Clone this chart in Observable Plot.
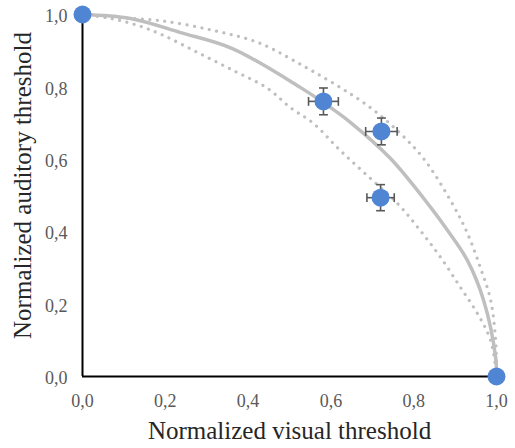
<!DOCTYPE html>
<html><head><meta charset="utf-8">
<script src="https://cdn.jsdelivr.net/npm/d3@7"></script>
<script src="https://cdn.jsdelivr.net/npm/@observablehq/plot@0.6"></script>
<style>
body{margin:0;background:#fff;}
</style></head>
<body><div id="chart"></div>
<script>
// Observed points
const visual = [0, 0.582, 0.722, 0.720, 1];
const auditory = [1, 0.760, 0.677, 0.494, 0];
const errVisual = [0, 0.036, 0.038, 0.033, 0];
const errAuditory = [0, 0.037, 0.037, 0.036, 0];

// Model curve (solid)
const modelX = [0, 0.116, 0.237, 0.362, 0.527, 0.599, 0.647, 0.744, 0.841, 0.882, 0.930, 0.969, 0.998, 1];
const modelY = [1, 0.989, 0.950, 0.906, 0.798, 0.743, 0.702, 0.602, 0.467, 0.403, 0.320, 0.210, 0.052, 0];
// Outer bound (dotted)
const upperX = [0, 0.075, 0.188, 0.316, 0.423, 0.510, 0.688, 0.785, 0.833, 0.896, 0.930, 0.961, 0.986, 0.998, 1.0, 1];
const upperY = [1, 0.992, 0.983, 0.956, 0.923, 0.873, 0.749, 0.652, 0.588, 0.472, 0.395, 0.301, 0.210, 0.099, 0.036, 0];
// Inner bound (dotted)
const lowerX = [0, 0.068, 0.133, 0.196, 0.278, 0.365, 0.447, 0.502, 0.558, 0.623, 0.688, 0.761, 0.816, 0.865, 0.913, 0.954, 0.986, 1];
const lowerY = [1, 0.989, 0.970, 0.942, 0.895, 0.845, 0.796, 0.743, 0.699, 0.624, 0.555, 0.478, 0.403, 0.329, 0.246, 0.174, 0.099, 0];

const ticks = [0, 0.2, 0.4, 0.6, 0.8, 1.0];

const pts = visual.map((v, i) => ({x: v, y: auditory[i], ex: errVisual[i], ey: errAuditory[i]}));
const errPts = pts.filter(d => d.ex > 0);
const model = modelX.map((x, i) => ({x, y: modelY[i]}));
const upper = upperX.map((x, i) => ({x, y: upperY[i]}));
const lower = lowerX.map((x, i) => ({x, y: lowerY[i]}));

const capV = {draw(ctx, size) { const h = Math.sqrt(size) / 2; ctx.moveTo(0, -h); ctx.lineTo(0, h); }};
const capH = {draw(ctx, size) { const h = Math.sqrt(size) / 2; ctx.moveTo(-h, 0); ctx.lineTo(h, 0); }};

const fmt = d => d.toFixed(1).replace(".", ",");
const grey = "#bfbfbf";
const errC = "#595959";
const serif = "Liberation Serif";

const chart = Plot.plot({
  width: 515,
  height: 448,
  marginLeft: 82,
  marginRight: 19,
  marginTop: 14,
  marginBottom: 72,
  x: {domain: [0, 1]},
  y: {domain: [0, 1]},
  style: {background: "#fff", fontFamily: serif},
  marks: [
    Plot.axisX({ticks, tickFormat: fmt, tickSize: 0, tickPadding: 18, fontSize: 18, fontFamily: serif, color: "#595959", label: null}),
    Plot.axisY({ticks, tickFormat: fmt, tickSize: 0, tickPadding: 15, dy: 2, fontSize: 18, fontFamily: serif, color: "#595959", label: null}),
    Plot.text(["Normalized visual threshold"], {frameAnchor: "bottom", dy: 62, fontSize: 25, fontFamily: serif, fill: "#262626"}),
    Plot.text(["Normalized auditory threshold"], {frameAnchor: "left", textAnchor: "middle", dx: -60, dy: -10, rotate: -90, fontSize: 25, fontFamily: serif, fill: "#262626"}),
    Plot.ruleX([0], {stroke: "#000", strokeWidth: 2}),
    Plot.ruleY([0], {stroke: "#000", strokeWidth: 2}),
    Plot.line(upper, {x: "x", y: "y", stroke: grey, strokeWidth: 3.2, strokeDasharray: "0.01,7.5", strokeLinecap: "round", curve: "catmull-rom"}),
    Plot.line(lower, {x: "x", y: "y", stroke: grey, strokeWidth: 3.2, strokeDasharray: "0.01,7.5", strokeLinecap: "round", curve: "catmull-rom"}),
    Plot.line(model, {x: "x", y: "y", stroke: grey, strokeWidth: 3.5, curve: "catmull-rom"}),
    Plot.link(errPts, {x1: d => d.x - d.ex, x2: d => d.x + d.ex, y1: "y", y2: "y", stroke: errC, strokeWidth: 1.6}),
    Plot.link(errPts, {x1: "x", x2: "x", y1: d => d.y - d.ey, y2: d => d.y + d.ey, stroke: errC, strokeWidth: 1.6}),
    Plot.dot(errPts, {x: d => d.x - d.ex, y: "y", symbol: capV, r: 5, stroke: errC, strokeWidth: 1.6}),
    Plot.dot(errPts, {x: d => d.x + d.ex, y: "y", symbol: capV, r: 5, stroke: errC, strokeWidth: 1.6}),
    Plot.dot(errPts, {x: "x", y: d => d.y - d.ey, symbol: capH, r: 5, stroke: errC, strokeWidth: 1.6}),
    Plot.dot(errPts, {x: "x", y: d => d.y + d.ey, symbol: capH, r: 5, stroke: errC, strokeWidth: 1.6}),
    Plot.dot(pts, {x: "x", y: "y", r: 9, fill: "#4f85d3", stroke: "none"})
  ]
});
document.getElementById("chart").appendChild(chart);
</script>
</body></html>
